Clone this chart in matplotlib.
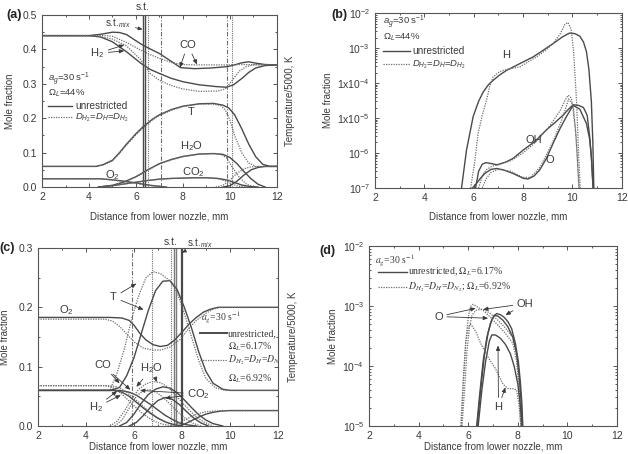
import matplotlib
matplotlib.use('Agg')
import matplotlib.pyplot as plt
from matplotlib.ticker import MultipleLocator, FixedLocator, FixedFormatter, NullFormatter

plt.rcParams['font.family'] = ['Liberation Sans', 'DejaVu Sans']
plt.rcParams['mathtext.fontset'] = 'custom'
plt.rcParams['mathtext.rm'] = 'Liberation Sans'
plt.rcParams['mathtext.it'] = 'Liberation Sans:italic'
plt.rcParams['mathtext.bf'] = 'Liberation Sans:bold'

INK = '#3a3a3a'
LINE = '#4a4a4a'
DOT = '#6e6e6e'

# ---------------------------------------------------------------------------
# (a) major species, Omega_L = 44 %
# ---------------------------------------------------------------------------
A_CO_X = [2, 4, 4.5, 5, 5.3, 5.6, 6.0, 6.3, 6.7, 7.0, 7.4, 7.9, 8.5, 9.2, 9.9, 10.2, 10.5, 10.8, 11.1, 11.5, 12]
A_CO_Y = [0.44, 0.44, 0.444, 0.45, 0.449, 0.443, 0.425, 0.412, 0.398, 0.388, 0.37, 0.347, 0.344, 0.346, 0.35,
          0.355, 0.361, 0.364, 0.36, 0.356, 0.355]
A_CO_DOT_X = [2, 4, 4.5, 5, 5.6, 6.2, 6.6, 7.0, 7.5, 8.0, 8.5, 9.5, 10.0, 10.5, 12]
A_CO_DOT_Y = [0.44, 0.44, 0.441, 0.438, 0.42, 0.398, 0.385, 0.374, 0.362, 0.356, 0.355, 0.355, 0.355, 0.356, 0.355]
A_H2_X = [2, 4, 4.5, 5.0, 5.6, 6.2, 6.6, 7.0, 7.5, 8.0, 8.7, 9.4, 9.85, 10.15, 10.5, 10.8, 11.1, 11.5, 12]
A_H2_Y = [0.44, 0.44, 0.436, 0.422, 0.393, 0.36, 0.342, 0.33, 0.316, 0.306, 0.297, 0.292, 0.29, 0.297, 0.315,
          0.333, 0.346, 0.353, 0.355]
A_H2_DOT_X = [2, 4, 4.5, 5.0, 5.6, 6.2, 6.6, 7.0, 7.5, 8.0, 8.7, 9.5, 9.8, 10.1, 10.4, 10.7, 11.0, 12]
A_H2_DOT_Y = [0.44, 0.44, 0.437, 0.43, 0.41, 0.37, 0.33, 0.31, 0.295, 0.285, 0.278, 0.279, 0.285, 0.31, 0.337,
              0.35, 0.355, 0.355]
A_T_X = [2, 4.3, 4.6, 5.0, 5.3, 5.6, 6.0, 6.3, 6.7, 7.0, 7.5, 8.0, 8.7, 9.3, 9.7, 9.95, 10.2, 10.5, 10.8, 11.1,
         11.4, 11.7, 12]
A_T_Y = [0.06, 0.06, 0.065, 0.078, 0.1, 0.125, 0.155, 0.175, 0.197, 0.21, 0.225, 0.235, 0.242, 0.243, 0.238,
         0.23, 0.21, 0.17, 0.125, 0.088, 0.066, 0.06, 0.06]
A_T_DOT_X = [2, 4.3, 4.6, 5.0, 5.3, 5.6, 6.0, 6.3, 6.7, 7.0, 7.5, 8.0, 8.7, 9.3, 9.6, 9.8, 10.0, 10.2, 10.5,
             10.8, 11.1, 12]
A_T_DOT_Y = [0.06, 0.06, 0.064, 0.076, 0.098, 0.122, 0.152, 0.172, 0.195, 0.208, 0.223, 0.234, 0.241, 0.241,
             0.237, 0.225, 0.195, 0.15, 0.1, 0.07, 0.06, 0.06]
A_H2O_X = [4.4, 5.0, 5.5, 6.0, 6.5, 7.0, 7.5, 8.0, 8.7, 9.3, 9.7, 10.0, 10.3, 10.6, 10.9, 11.2, 11.5]
A_H2O_Y = [0, 0.005, 0.015, 0.03, 0.05, 0.068, 0.08, 0.089, 0.096, 0.097, 0.095, 0.086, 0.068, 0.045, 0.024,
           0.008, 0]
A_H2O_DOT_X = [4.4, 5.0, 5.5, 6.0, 6.5, 7.0, 7.5, 8.0, 8.7, 9.3, 9.6, 9.85, 10.1, 10.4, 10.7, 11.0]
A_H2O_DOT_Y = [0, 0.005, 0.014, 0.029, 0.049, 0.067, 0.079, 0.088, 0.096, 0.098, 0.096, 0.085, 0.058, 0.028,
               0.009, 0]
A_CO2_X = [4.4, 5.0, 5.5, 6.0, 6.5, 7.0, 7.5, 8.0, 8.5, 9.0, 9.5, 9.9, 10.2, 10.5, 10.8, 11.2]
A_CO2_Y = [0, 0.004, 0.009, 0.014, 0.019, 0.023, 0.025, 0.026, 0.027, 0.027, 0.025, 0.02, 0.013, 0.006, 0.002, 0]
A_CO2_DOT_X = [4.4, 5.0, 5.5, 6.0, 6.5, 7.0, 7.5, 8.0, 8.5, 9.0, 9.5, 9.8, 10.1, 10.4, 10.8]
A_CO2_DOT_Y = [0, 0.004, 0.009, 0.014, 0.019, 0.023, 0.025, 0.026, 0.027, 0.027, 0.024, 0.018, 0.008, 0.002, 0]
A_O2_X = [2, 4.5, 5.0, 5.5, 6.0, 6.5, 7.0, 7.3]
A_O2_Y = [0.024, 0.024, 0.021, 0.017, 0.012, 0.006, 0.002, 0]
A_O2_DOT_X = [2, 4.4, 4.9, 5.4, 5.9, 6.4, 6.9, 7.2]
A_O2_DOT_Y = [0.024, 0.024, 0.021, 0.017, 0.012, 0.006, 0.002, 0]
A_OX_X = [9.7, 10.0, 10.3, 10.6, 10.9, 11.2, 11.5, 12]
A_OX_Y = [0, 0.004, 0.017, 0.035, 0.05, 0.057, 0.06, 0.06]
A_OX_DOT_X = [9.4, 9.7, 10.0, 10.3, 10.6, 10.9, 12]
A_OX_DOT_Y = [0, 0.005, 0.02, 0.04, 0.053, 0.059, 0.06]
A_ST = [6.28, 6.4]
A_DOTTED_V = [6.5, 10.1]
A_DASHDOT_V = [7.05, 9.87]

# ---------------------------------------------------------------------------
# (b) radicals, Omega_L = 44 %
# ---------------------------------------------------------------------------
B_H_X = [5.51, 5.71, 5.98, 6.2, 6.39, 6.6, 6.79, 7.05, 7.33, 7.87, 8.41, 8.8, 9.22, 9.6, 9.89, 10.1, 10.3,
         10.45, 10.57, 10.67, 10.77, 10.83, 10.87]
B_H_Y = [1e-7, 1.2e-6, 1.1e-5, 3e-5, 5.6e-5, 9e-5, 1.2e-4, 1.7e-4, 2.3e-4, 3.6e-4, 5.6e-4, 8.5e-4, 1.35e-3,
         2.1e-3, 2.7e-3, 2.6e-3, 2.2e-3, 1.5e-3, 8e-4, 2.5e-4, 3e-5, 2e-6, 1e-7]
B_H_DOT_X = [5.88, 6.05, 6.18, 6.35, 6.52, 6.65, 6.79, 7.0, 7.19, 7.5, 7.87, 8.2, 8.55, 8.9, 9.22, 9.5, 9.7,
             9.82, 9.95, 10.05, 10.17, 10.25, 10.32]
B_H_DOT_Y = [1e-7, 6e-7, 3.6e-6, 1.2e-5, 3.2e-5, 8e-5, 1.5e-4, 2e-4, 2.3e-4, 2.6e-4, 2.9e-4, 4e-4, 5.6e-4,
             8.5e-4, 1.35e-3, 2.5e-3, 4.8e-3, 5.4e-3, 3.5e-3, 8e-4, 3e-5, 1e-6, 1e-7]
B_OH_X = [6.08, 6.2, 6.35, 6.5, 6.7, 6.95, 7.3, 7.6, 8.0, 8.5, 8.95, 9.3, 9.62, 9.85, 10.03, 10.25, 10.45,
          10.6, 10.7, 10.78, 10.84]
B_OH_Y = [1e-7, 3e-7, 4.8e-7, 5.3e-7, 5e-7, 4.6e-7, 5.5e-7, 7e-7, 1.2e-6, 2.2e-6, 4.6e-6, 7.5e-6, 1.2e-5,
          1.8e-5, 2.4e-5, 2.3e-5, 2e-5, 1.2e-5, 3e-6, 6e-7, 1e-7]
B_OH_DOT_X = [6.2, 6.35, 6.5, 6.75, 7.0, 7.5, 8.0, 8.5, 9.0, 9.5, 9.7, 9.83, 9.95, 10.05, 10.15, 10.22, 10.28]
B_OH_DOT_Y = [1e-7, 2.2e-7, 3.3e-7, 4.2e-7, 4.6e-7, 6e-7, 1e-6, 2e-6, 5e-6, 1.6e-5, 3.2e-5, 4.5e-5, 3.8e-5,
              1.8e-5, 3e-6, 4e-7, 1e-7]
B_O_X = [5.95, 6.1, 6.25, 6.45, 6.7, 6.93, 7.2, 7.6, 8.0, 8.2, 8.45, 8.68, 8.95, 9.22, 9.5, 9.76, 10.03, 10.3,
         10.57, 10.7, 10.77, 10.84]
B_O_Y = [1e-7, 1.3e-7, 1.8e-7, 2.6e-7, 3.4e-7, 3.6e-7, 3.3e-7, 2.6e-7, 1.9e-7, 1.8e-7, 2.2e-7, 3.3e-7, 7e-7,
         1.9e-6, 5e-6, 1.1e-5, 2.3e-5, 1.8e-5, 7e-6, 2.5e-6, 8e-7, 1e-7]
B_O_DOT_X = [6.35, 6.5, 6.7, 7.0, 7.5, 8.0, 8.3, 8.7, 9.2, 9.6, 9.85, 10.0, 10.12, 10.2, 10.26]
B_O_DOT_Y = [1e-7, 1.8e-7, 2.8e-7, 3.4e-7, 3e-7, 2e-7, 2e-7, 4e-7, 2e-6, 1e-5, 3.5e-5, 2.5e-5, 5e-6, 8e-7, 1e-7]

# ---------------------------------------------------------------------------
# (c) major species, near-limit flame
# ---------------------------------------------------------------------------
C_O2_X = [2, 5.0, 5.5, 5.8, 6.0, 6.25, 6.5, 6.8, 7.1, 7.4, 7.7, 8.0, 8.3, 8.6, 8.9, 9.2, 9.5, 9.8, 12]
C_O2_Y = [0.183, 0.183, 0.182, 0.178, 0.17, 0.156, 0.145, 0.137, 0.134, 0.136, 0.145, 0.158, 0.172, 0.183,
          0.192, 0.197, 0.2, 0.2, 0.2]
C_O2_DOT_X = [2, 4.8, 5.1, 5.4, 5.7, 6.0, 6.4, 6.8, 7.1, 7.5, 7.9, 8.3, 8.6, 9.0, 9.3, 9.6, 12]
C_O2_DOT_Y = [0.18, 0.18, 0.177, 0.168, 0.155, 0.142, 0.131, 0.128, 0.128, 0.133, 0.145, 0.165, 0.178, 0.19,
              0.197, 0.2, 0.2]
C_T_X = [2, 5.0, 5.4, 5.7, 6.0, 6.3, 6.6, 6.9, 7.2, 7.5, 7.8, 8.1, 8.4, 8.7, 9.0, 9.3, 9.7, 10.0, 12]
C_T_Y = [0.06, 0.06, 0.065, 0.085, 0.115, 0.155, 0.195, 0.228, 0.244, 0.245, 0.23, 0.2, 0.165, 0.125, 0.092,
         0.072, 0.062, 0.06, 0.06]
C_T_DOT_X = [2, 5.0, 5.3, 5.6, 5.9, 6.2, 6.5, 6.8, 7.1, 7.5, 7.8, 8.1, 8.4, 8.7, 9.0, 9.4, 9.8, 12]
C_T_DOT_Y = [0.06, 0.06, 0.09, 0.13, 0.18, 0.22, 0.25, 0.26, 0.257, 0.245, 0.225, 0.19, 0.15, 0.11, 0.08,
             0.064, 0.06, 0.06]
C_CO_X = [2, 5.4, 5.8, 6.1, 6.4, 6.7, 7.0, 7.3, 7.6, 7.9, 8.2, 8.6]
C_CO_Y = [0.06, 0.06, 0.057, 0.052, 0.044, 0.036, 0.027, 0.018, 0.011, 0.005, 0.002, 0]
C_H2_X = [2, 5.2, 5.5, 5.8, 6.1, 6.4, 6.7, 7.0, 7.3, 7.6, 8.0]
C_H2_Y = [0.06, 0.06, 0.057, 0.05, 0.04, 0.03, 0.021, 0.013, 0.007, 0.003, 0]
C_CO_DOT_X = [2, 5.0, 5.3, 5.6, 5.9, 6.2, 6.5, 6.8, 7.1, 7.4, 7.8]
C_CO_DOT_Y = [0.068, 0.068, 0.066, 0.06, 0.05, 0.04, 0.029, 0.019, 0.011, 0.005, 0]
C_H2_DOT_X = [2, 4.8, 5.1, 5.4, 5.7, 6.0, 6.3, 6.6, 6.9, 7.2, 7.6]
C_H2_DOT_Y = [0.068, 0.068, 0.065, 0.057, 0.046, 0.034, 0.023, 0.014, 0.007, 0.003, 0]
C_H2O_X = [5.4, 5.7, 6.0, 6.3, 6.6, 6.9, 7.2, 7.5, 7.8, 8.1, 8.4, 8.7, 9.0, 9.3, 9.7]
C_H2O_Y = [0, 0.006, 0.02, 0.038, 0.053, 0.062, 0.066, 0.064, 0.056, 0.044, 0.031, 0.019, 0.01, 0.004, 0]
C_H2O_DOT_X = [5.0, 5.3, 5.6, 5.9, 6.2, 6.5, 6.8, 7.1, 7.4, 7.7, 8.0, 8.3, 8.6, 8.9, 9.3]
C_H2O_DOT_Y = [0, 0.008, 0.025, 0.045, 0.062, 0.071, 0.075, 0.073, 0.066, 0.054, 0.04, 0.027, 0.015, 0.007, 0]
C_CO2_X = [5.8, 6.1, 6.4, 6.7, 7.0, 7.3, 7.6, 7.9, 8.2, 8.5, 8.8, 9.1]
C_CO2_Y = [0, 0.006, 0.018, 0.032, 0.043, 0.048, 0.045, 0.036, 0.024, 0.013, 0.005, 0]
C_CO2_DOT_X = [5.2, 5.5, 5.8, 6.1, 6.4, 6.7, 7.0, 7.3, 7.6, 7.9, 8.2, 8.5, 8.8]
C_CO2_DOT_Y = [0, 0.01, 0.03, 0.05, 0.06, 0.061, 0.055, 0.045, 0.033, 0.021, 0.011, 0.004, 0]
C_OX_X = [7.8, 8.1, 8.4, 8.7, 9.0, 9.3, 9.6, 10.0, 12]
C_OX_Y = [0, 0.003, 0.009, 0.015, 0.02, 0.023, 0.025, 0.026, 0.026]
C_OX_DOT_X = [7.5, 7.8, 8.1, 8.4, 8.7, 9.0, 9.3, 9.7, 12]
C_OX_DOT_Y = [0, 0.004, 0.01, 0.016, 0.021, 0.024, 0.025, 0.026, 0.026]
C_ST = [7.68, 7.76]
C_ST_MIX = 8.0
C_DOTTED_V = [6.75, 7.55]
C_DASHDOT_V = [5.9]

# ---------------------------------------------------------------------------
# (d) radicals, near-limit flame
# ---------------------------------------------------------------------------
D_OH_X = [6.34, 6.45, 6.6, 6.75, 6.9, 7.05, 7.15, 7.3, 7.45, 7.6, 7.75, 7.9, 8.02, 8.1, 8.16, 8.2]
D_OH_Y = [1e-5, 3e-5, 1.2e-4, 3e-4, 5.2e-4, 7e-4, 7.5e-4, 7.2e-4, 6.5e-4, 5.5e-4, 4.2e-4, 2.4e-4, 1.2e-4,
          5.5e-5, 2.5e-5, 1e-5]
D_O_X = [6.36, 6.5, 6.65, 6.8, 6.95, 7.05, 7.2, 7.4, 7.6, 7.8, 7.95, 8.05, 8.12, 8.18]
D_O_Y = [1e-5, 4e-5, 1.5e-4, 3.6e-4, 6e-4, 7e-4, 6.8e-4, 5.8e-4, 4.5e-4, 3e-4, 1.6e-4, 7e-5, 3e-5, 1e-5]
D_H_X = [6.4, 6.55, 6.7, 6.85, 6.95, 7.1, 7.3, 7.5, 7.7, 7.85, 8.0, 8.1, 8.16]
D_H_Y = [1e-5, 4e-5, 1.2e-4, 2.6e-4, 3.3e-4, 3.3e-4, 2.9e-4, 2.3e-4, 1.6e-4, 1e-4, 5e-5, 2.2e-5, 1e-5]
D_O_DOT_X = [5.72, 5.8, 5.9, 6.0, 6.1, 6.2, 6.4, 6.6, 6.9, 7.2, 7.5, 7.8, 7.95, 8.05, 8.12]
D_O_DOT_Y = [1e-5, 5e-5, 2.5e-4, 6.5e-4, 1e-3, 1.07e-3, 9.5e-4, 8.5e-4, 6.5e-4, 4.8e-4, 3.5e-4, 2.4e-4, 1.2e-4,
             4e-5, 1e-5]
D_OH_DOT_X = [5.75, 5.85, 5.95, 6.05, 6.15, 6.3, 6.5, 6.65, 6.9, 7.2, 7.5, 7.8, 7.95, 8.05, 8.12]
D_OH_DOT_Y = [1e-5, 4e-5, 1.8e-4, 4.5e-4, 7e-4, 8.5e-4, 8.8e-4, 8.7e-4, 7.5e-4, 5.8e-4, 4.3e-4, 3e-4, 1.6e-4,
              5e-5, 1e-5]
D_H_DOT_X = [5.7, 5.8, 5.9, 6.0, 6.1, 6.3, 6.5, 6.8, 7.1, 7.4, 7.6, 7.8, 7.95, 8.05, 8.12]
D_H_DOT_Y = [1e-5, 6e-5, 2.5e-4, 4.5e-4, 5e-4, 3.8e-4, 2.4e-4, 1.4e-4, 9e-5, 5e-5, 4.2e-5, 4.2e-5, 4e-5, 2.2e-5,
             1e-5]

X_TICKS = [2, 4, 6, 8, 10, 12]
B_DECADES = [1e-7, 1e-6, 1e-5, 1e-4, 1e-3, 1e-2]
B_DECADE_LABELS = ['10$^{-7}$', '10$^{-6}$', '1x10$^{-5}$', '1x10$^{-4}$', '10$^{-3}$', '10$^{-2}$']
D_DECADES = [1e-5, 1e-4, 1e-3, 1e-2]
D_DECADE_LABELS = ['10$^{-5}$', '10$^{-4}$', '10$^{-3}$', '10$^{-2}$']

XLABEL = 'Distance from lower nozzle, mm'
SERIF = dict(family=['Liberation Serif', 'DejaVu Serif'], math_fontfamily='stix')


def curve(ax, x, y, dotted=False):
    if dotted:
        ax.plot(x, y, color=DOT, lw=0.9, ls=(0, (1, 1)))
    else:
        ax.plot(x, y, color=LINE, lw=1.0)


def frame(ax):
    ax.set_xlim(2, 12)
    ax.set_xticks(X_TICKS)
    ax.xaxis.set_minor_locator(MultipleLocator(1))
    ax.tick_params(which='both', direction='in', top=True, right=True,
                   colors='#555555', labelcolor=INK, labelsize=7.5, width=0.7)
    ax.tick_params(which='major', length=3)
    ax.tick_params(which='minor', length=1.5)
    for s in ax.spines.values():
        s.set_color('#555555')
        s.set_linewidth(0.8)
    ax.set_xlabel(XLABEL, fontsize=7, color=INK)
    ax.set_ylabel('Mole fraction', fontsize=7, color=INK)


def arrows(ax, text, pos, targets, size=8, **kw):
    for i, xy in enumerate(targets):
        ax.annotate(text, xy=xy, xytext=pos, ha='center', va='center', fontsize=size,
                    color=INK if i == 0 else 'none', **kw,
                    arrowprops=dict(arrowstyle='-|>,head_length=0.35,head_width=0.15',
                                    color=INK, lw=0.6, shrinkA=1, shrinkB=0))


def vlines(ax, dotted, dashdot):
    for v in dotted:
        ax.axvline(v, color=DOT, lw=0.8, ls=(0, (1, 1)))
    for v in dashdot:
        ax.axvline(v, color=DOT, lw=0.8, ls=(0, (4, 1.5, 1, 1.5)))


fig = plt.figure(figsize=(6.28, 4.54), dpi=100)
ax_a = fig.add_axes([0.0669, 0.588, 0.374, 0.379])
ax_b = fig.add_axes([0.597, 0.586, 0.393, 0.385])
ax_c = fig.add_axes([0.0605, 0.0617, 0.382, 0.392])
ax_d = fig.add_axes([0.5876, 0.0617, 0.395, 0.396])

# ---------------- (a) ----------------
ax = ax_a
frame(ax)
ax.set_ylim(0, 0.5)
ax.yaxis.set_major_locator(MultipleLocator(0.1))
ax.yaxis.set_minor_locator(MultipleLocator(0.05))
ax.yaxis.set_major_formatter(plt.FormatStrFormatter('%.1f'))
vlines(ax, A_DOTTED_V, A_DASHDOT_V)
for v in A_ST:
    ax.axvline(v, color=LINE, lw=1.0)
for xs, ys, dd in [(A_CO_X, A_CO_Y, False), (A_CO_DOT_X, A_CO_DOT_Y, True),
                   (A_H2_X, A_H2_Y, False), (A_H2_DOT_X, A_H2_DOT_Y, True),
                   (A_T_X, A_T_Y, False), (A_T_DOT_X, A_T_DOT_Y, True),
                   (A_H2O_X, A_H2O_Y, False), (A_H2O_DOT_X, A_H2O_DOT_Y, True),
                   (A_CO2_X, A_CO2_Y, False), (A_CO2_DOT_X, A_CO2_DOT_Y, True),
                   (A_O2_X, A_O2_Y, False), (A_O2_DOT_X, A_O2_DOT_Y, True),
                   (A_OX_X, A_OX_Y, False), (A_OX_DOT_X, A_OX_DOT_Y, True)]:
    curve(ax, xs, ys, dd)
ax.text(6.3, 0.508, 's.t.', ha='center', va='bottom', fontsize=7.5, color=INK)
arrows(ax, 's.t.$_{mix}$', (5.25, 0.476), [(6.28, 0.458)], size=7)
arrows(ax, 'CO', (8.2, 0.413), [(7.87, 0.347), (8.6, 0.356)])
arrows(ax, 'H$_2$', (4.35, 0.388), [(5.5, 0.413), (5.5, 0.396)])
ax.text(8.35, 0.219, 'T', ha='center', va='center', fontsize=8, color=INK)
ax.text(8.35, 0.12, 'H$_2$O', ha='center', va='center', fontsize=8, color=INK)
ax.text(8.45, 0.042, 'CO$_2$', ha='center', va='center', fontsize=8, color=INK)
ax.text(5.0, 0.035, 'O$_2$', ha='center', va='center', fontsize=8, color=INK)
ax.text(0.027, 0.625, '$a_g$=30 s$^{-1}$', transform=ax.transAxes, fontsize=6.8, color=INK, va='center')
ax.text(0.027, 0.545, '$\\Omega_L$=44%', transform=ax.transAxes, fontsize=6.8, color=INK, va='center')
ax.plot([0.027, 0.126], [0.47, 0.47], transform=ax.transAxes, color=LINE, lw=1.0)
ax.text(0.14, 0.47, 'unrestricted', transform=ax.transAxes, fontsize=7.2, color=INK, va='center')
ax.plot([0.027, 0.126], [0.405, 0.405], transform=ax.transAxes, color=DOT, lw=0.9, ls=(0, (1, 1)))
ax.text(0.14, 0.4, '$D_{H_2}$=$D_H$=$D_{H_2}$', transform=ax.transAxes, fontsize=6.8, color=INK,
        va='center')
ax.yaxis.set_label_coords(-0.115, 0.5)
ax.xaxis.set_label_coords(0.5, -0.145)

# ---------------- (b) ----------------
ax = ax_b
frame(ax)
ax.set_yscale('log')
ax.set_ylim(1e-7, 1e-2)
ax.yaxis.set_major_locator(FixedLocator(B_DECADES))
ax.yaxis.set_major_formatter(FixedFormatter(B_DECADE_LABELS))
ax.yaxis.set_minor_locator(matplotlib.ticker.LogLocator(base=10, subs=range(2, 10)))
ax.yaxis.set_minor_formatter(NullFormatter())
for xs, ys, dd in [(B_H_X, B_H_Y, False), (B_H_DOT_X, B_H_DOT_Y, True),
                   (B_OH_X, B_OH_Y, False), (B_OH_DOT_X, B_OH_DOT_Y, True),
                   (B_O_X, B_O_Y, False), (B_O_DOT_X, B_O_DOT_Y, True)]:
    curve(ax, xs, ys, dd)
ax.text(7.3, 6.3e-4, 'H', ha='center', va='center', fontsize=8, color=INK)
ax.text(8.45, 2.3e-6, 'OH', ha='center', va='center', fontsize=8, color=INK)
ax.text(9.1, 6.3e-7, 'O', ha='center', va='center', fontsize=8, color=INK)
ax.text(0.032, 0.945, '$a_g$=30 s$^{-1}$', transform=ax.transAxes, fontsize=6.8, color=INK, va='center')
ax.text(0.032, 0.862, '$\\Omega_L$=44%', transform=ax.transAxes, fontsize=6.8, color=INK, va='center')
ax.plot([0.032, 0.142], [0.785, 0.785], transform=ax.transAxes, color=LINE, lw=1.0)
ax.text(0.15, 0.785, 'unrestricted', transform=ax.transAxes, fontsize=7.2, color=INK, va='center')
ax.plot([0.032, 0.142], [0.712, 0.712], transform=ax.transAxes, color=DOT, lw=0.9, ls=(0, (1, 1)))
ax.text(0.15, 0.707, '$D_{H_2}$=$D_H$=$D_{H_2}$', transform=ax.transAxes, fontsize=6.8, color=INK,
        va='center')
ax.yaxis.set_label_coords(-0.17, 0.5)
ax.xaxis.set_label_coords(0.5, -0.137)

# ---------------- (c) ----------------
ax = ax_c
frame(ax)
ax.set_ylim(0, 0.3)
ax.yaxis.set_major_locator(MultipleLocator(0.1))
ax.yaxis.set_minor_locator(MultipleLocator(0.05))
ax.yaxis.set_major_formatter(plt.FormatStrFormatter('%.1f'))
vlines(ax, C_DOTTED_V, C_DASHDOT_V)
for v in C_ST:
    ax.axvline(v, color='#7a7a7a', lw=1.0)
ax.axvline(C_ST_MIX, color=LINE, lw=1.6)
for xs, ys, dd in [(C_O2_X, C_O2_Y, False), (C_O2_DOT_X, C_O2_DOT_Y, True),
                   (C_T_X, C_T_Y, False), (C_T_DOT_X, C_T_DOT_Y, True),
                   (C_CO_X, C_CO_Y, False), (C_CO_DOT_X, C_CO_DOT_Y, True),
                   (C_H2_X, C_H2_Y, False), (C_H2_DOT_X, C_H2_DOT_Y, True),
                   (C_H2O_X, C_H2O_Y, False), (C_H2O_DOT_X, C_H2O_DOT_Y, True),
                   (C_CO2_X, C_CO2_Y, False), (C_CO2_DOT_X, C_CO2_DOT_Y, True),
                   (C_OX_X, C_OX_Y, False), (C_OX_DOT_X, C_OX_DOT_Y, True)]:
    curve(ax, xs, ys, dd)
ax.text(7.55, 0.302, 's.t.', ha='center', va='bottom', fontsize=7.5, color=INK)
arrows(ax, 's.t.$_{mix}$', (8.75, 0.309), [(8.0, 0.292)], size=7, annotation_clip=False)
arrows(ax, 'T', (5.15, 0.217), [(6.1, 0.24), (6.4, 0.196)])
ax.text(3.2, 0.196, 'O$_2$', ha='center', va='center', fontsize=8, color=INK)
arrows(ax, 'CO', (4.72, 0.102), [(5.4, 0.072), (5.85, 0.061)])
arrows(ax, 'H$_2$', (4.4, 0.031), [(5.3, 0.059), (5.45, 0.052)])
arrows(ax, 'H$_2$O', (6.75, 0.097), [(6.1, 0.066), (6.95, 0.074)])
arrows(ax, 'CO$_2$', (8.7, 0.054), [(6.25, 0.06), (7.3, 0.047)])
ax.text(0.68, 0.613, '$a_g$=30 s$^{-1}$', transform=ax.transAxes, fontsize=7, color=INK, va='center', **SERIF)
ax.plot([0.675, 0.786], [0.52, 0.52], transform=ax.transAxes, color=LINE, lw=1.4)
ax.text(0.793, 0.52, 'unrestricted,', transform=ax.transAxes, fontsize=7, color=INK, va='center', **SERIF)
ax.text(0.793, 0.443, '$\\Omega_L$=6.17%', transform=ax.transAxes, fontsize=7, color=INK, va='center', **SERIF)
ax.plot([0.675, 0.786], [0.37, 0.37], transform=ax.transAxes, color=DOT, lw=0.9, ls=(0, (1, 1)))
ax.text(0.793, 0.37, '$D_{H_2}$=$D_H$=$D_{N_2}$', transform=ax.transAxes, fontsize=7, color=INK,
        va='center', clip_on=True, **SERIF)
ax.text(0.793, 0.267, '$\\Omega_L$=6.92%', transform=ax.transAxes, fontsize=7, color=INK, va='center', **SERIF)
ax.yaxis.set_label_coords(-0.117, 0.5)
ax.xaxis.set_label_coords(0.5, -0.085)

# ---------------- (d) ----------------
ax = ax_d
frame(ax)
ax.set_yscale('log')
ax.set_ylim(1e-5, 1e-2)
ax.yaxis.set_major_locator(FixedLocator(D_DECADES))
ax.yaxis.set_major_formatter(FixedFormatter(D_DECADE_LABELS))
ax.yaxis.set_minor_locator(matplotlib.ticker.LogLocator(base=10, subs=range(2, 10)))
ax.yaxis.set_minor_formatter(NullFormatter())
for xs, ys, dd in [(D_OH_X, D_OH_Y, False), (D_OH_DOT_X, D_OH_DOT_Y, True),
                   (D_O_X, D_O_Y, False), (D_O_DOT_X, D_O_DOT_Y, True),
                   (D_H_X, D_H_Y, False), (D_H_DOT_X, D_H_DOT_Y, True)]:
    curve(ax, xs, ys, dd)
arrows(ax, 'OH', (8.3, 1.1e-3), [(7.5, 7.1e-4), (6.6, 8.8e-4)])
arrows(ax, 'O', (4.8, 6.7e-4), [(6.3, 9.2e-4), (6.8, 6.3e-4)])
arrows(ax, 'H', (7.22, 2.1e-5), [(7.2, 2.2e-4), (7.5, 4.4e-5)])
ax.text(0.024, 0.92, '$a_g$=30 s$^{-1}$', transform=ax.transAxes, fontsize=7, color=INK, va='center', **SERIF)
ax.plot([0.038, 0.152], [0.857, 0.857], transform=ax.transAxes, color=LINE, lw=1.0)
ax.text(0.159, 0.857, 'unrestricted, $\\Omega_L$=6.17%', transform=ax.transAxes, fontsize=7, color=INK,
        va='center', **SERIF)
ax.plot([0.038, 0.152], [0.773, 0.773], transform=ax.transAxes, color=DOT, lw=0.9, ls=(0, (1, 1)))
ax.text(0.159, 0.773, '$D_{H_2}$=$D_H$=$D_{N_2}$; $\\Omega_L$=6.92%', transform=ax.transAxes, fontsize=7,
        color=INK, va='center', **SERIF)
ax.yaxis.set_label_coords(-0.125, 0.5)
ax.xaxis.set_label_coords(0.5, -0.085)

# right-hand temperature labels and panel tags
fig.text(0.462, 0.777, 'Temperature/5000, K', rotation=90, ha='center', va='center', fontsize=7, color=INK)
fig.text(0.467, 0.258, 'Temperature/5000, K', rotation=90, ha='center', va='center', fontsize=7, color=INK)
fig.text(0.022, 0.967, '(a)', ha='center', va='center', fontsize=9, fontweight='bold', color='#222222')
fig.text(0.541, 0.967, '(b)', ha='center', va='center', fontsize=9, fontweight='bold', color='#222222')
fig.text(0.012, 0.454, '(c)', ha='center', va='center', fontsize=9, fontweight='bold', color='#222222')
fig.text(0.522, 0.448, '(d)', ha='center', va='center', fontsize=9, fontweight='bold', color='#222222')

fig.savefig('out.png', dpi=100)
